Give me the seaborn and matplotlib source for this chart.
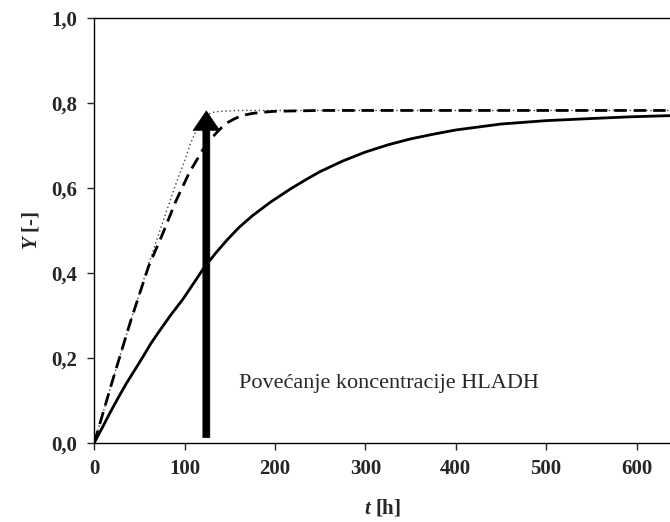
import numpy as np
import pandas as pd
import seaborn as sns
import matplotlib.pyplot as plt
from matplotlib.ticker import FuncFormatter

sns.set_style('ticks')
plt.rcParams['font.family'] = ['Liberation Serif', 'DejaVu Serif']
plt.rcParams['mathtext.fontset'] = 'custom'
plt.rcParams['mathtext.it'] = 'Liberation Serif:italic:bold'
plt.rcParams['mathtext.rm'] = 'Liberation Serif:bold'

# solid curve (base case)
t_solid = [0, 10, 17, 26, 35, 45, 54, 63, 73, 85, 98, 110, 121, 134, 147, 160, 175, 195, 217, 235,
           250, 275, 300, 325, 350, 375, 400, 450, 500, 550, 593, 640]
y_solid = [0, 0.04, 0.069, 0.104, 0.138, 0.172, 0.203, 0.235, 0.266, 0.302, 0.338, 0.376, 0.411,
           0.446, 0.478, 0.507, 0.535, 0.567, 0.598, 0.621, 0.639, 0.664, 0.685, 0.702, 0.716,
           0.727, 0.737, 0.751, 0.759, 0.764, 0.768, 0.771]

# dashed curve
t_dash = [0, 20, 40, 60, 76, 90, 105, 120, 128, 135, 141, 147, 154, 160, 168, 175, 187, 200, 225,
          250, 300, 400, 500, 600, 640]
y_dash = [0, 0.145, 0.285, 0.415, 0.494, 0.568, 0.636, 0.69, 0.713, 0.73, 0.743, 0.754, 0.762,
          0.768, 0.773, 0.776, 0.779, 0.781, 0.782, 0.783, 0.783, 0.783, 0.783, 0.783, 0.783]

# dotted curve
t_dot = [0, 20, 40, 60, 75, 90, 100, 106, 111, 115, 119, 122, 126, 130, 135, 140, 150, 160, 200,
         300, 400, 500, 600, 640]
y_dot = [0, 0.145, 0.285, 0.42, 0.515, 0.608, 0.665, 0.702, 0.728, 0.745, 0.759, 0.767, 0.774,
         0.778, 0.780, 0.781, 0.782, 0.783, 0.783, 0.783, 0.783, 0.783, 0.783, 0.783]

arrow_t = 124
arrow_y = [0.012, 0.782]
label_text = 'Povećanje koncentracije HLADH'

fig = plt.figure(figsize=(6.7, 5.22), dpi=100)
ax = fig.add_axes([0.1407, 0.1519, 0.8593, 0.8129])

sns.lineplot(x=t_dot, y=y_dot, ax=ax, color='#444444', lw=1.0, linestyle=(0, (1, 2.0)))
sns.lineplot(x=t_dash, y=y_dash, ax=ax, color='black', lw=2.0, linestyle=(0, (4.5, 2.5)))
sns.lineplot(x=t_solid, y=y_solid, ax=ax, color='black', lw=2.0)

ax.annotate('', xy=(arrow_t, arrow_y[1]), xytext=(arrow_t, arrow_y[0]),
            arrowprops=dict(width=5, headwidth=19, headlength=14,
                            facecolor='black', edgecolor='black', lw=0.5, shrink=0))
ax.text(160, 0.14, label_text, fontsize=16, va='center', ha='left')

ax.set_xlim(0, 637)
ax.set_ylim(0, 1.0)
ax.set_xticks([0, 100, 200, 300, 400, 500, 600])
ax.set_yticks([0, 0.2, 0.4, 0.6, 0.8, 1.0])
ax.yaxis.set_major_formatter(FuncFormatter(lambda v, p: f'{v:.1f}'.replace('.', ',')))
ax.tick_params(direction='out', length=5, width=1, labelsize=15, pad=7)
for lab in ax.get_xticklabels() + ax.get_yticklabels():
    lab.set_fontweight('bold')

ax.spines['right'].set_visible(False)
for s in ['left', 'bottom', 'top']:
    ax.spines[s].set_linewidth(1.0)
    ax.spines[s].set_color('black')

ax.set_xlabel(r'$t$ [h]', fontsize=15, fontweight='bold', labelpad=13)
ax.set_ylabel(r'$Y$ [-]', fontsize=15, fontweight='bold', labelpad=7)

fig.savefig('out.png', dpi=100)
